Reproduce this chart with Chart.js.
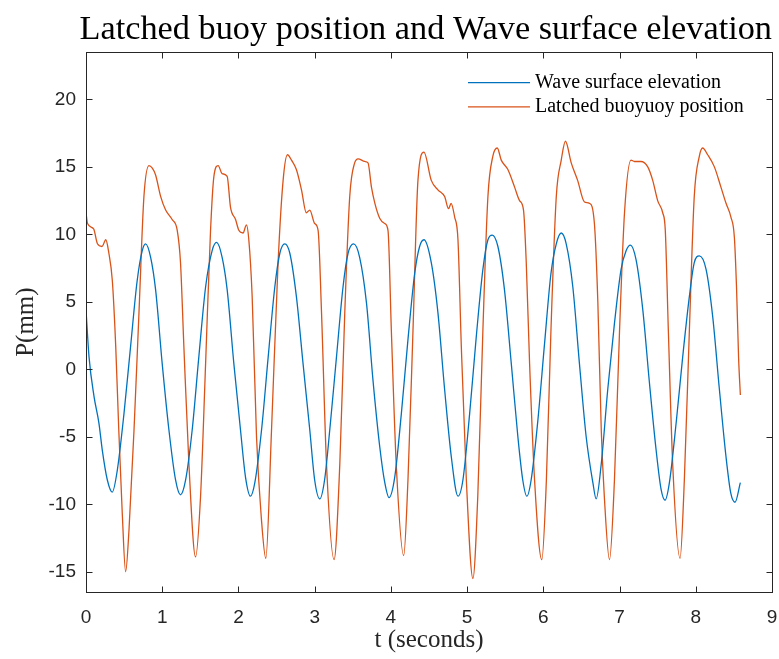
<!DOCTYPE html>
<html>
<head>
<meta charset="utf-8">
<script src="https://cdn.jsdelivr.net/npm/chart.js@4/dist/chart.umd.min.js"></script>
<style>
html,body{margin:0;padding:0;background:#ffffff;}
#wrap{width:779px;height:659px;}
</style>
</head>
<body>
<div id="wrap"><canvas id="c" width="779" height="659"></canvas></div>
<script>
const titleText = 'Latched buoy position and Wave surface elevation';
const xLabel = 't (seconds)';
const yLabel = 'P(mm)';
const seriesNames = ['Wave surface elevation', 'Latched buoyuoy position'];
const xTicks = [0, 1, 2, 3, 4, 5, 6, 7, 8, 9];
const yTicks = [-15, -10, -5, 0, 5, 10, 15, 20];

const waveT = [0.00,0.04,0.105,0.17,0.214,0.28,0.345,0.41,0.498,0.585,0.672,0.738,0.782,0.848,0.913,1.0,1.088,1.175,1.24,1.307,1.393,1.48,1.569,1.655,1.713,1.786,1.852,1.94,2.027,2.093,2.158,2.215,2.303,2.39,2.477,2.543,2.608,2.674,2.76,2.848,2.936,3.0,3.067,3.13,3.198,3.286,3.372,3.438,3.512,3.59,3.68,3.765,3.853,3.92,3.975,4.05,4.137,4.224,4.312,4.377,4.434,4.53,4.617,4.705,4.793,4.88,4.945,5.033,5.12,5.207,5.273,5.33,5.404,5.49,5.58,5.666,5.73,5.784,5.84,5.928,6.016,6.10,6.17,6.235,6.30,6.387,6.474,6.562,6.65,6.693,6.76,6.845,6.933,7.02,7.087,7.143,7.217,7.305,7.392,7.48,7.545,7.597,7.654,7.742,7.828,7.916,7.98,8.047,8.135,8.222,8.31,8.397,8.46,8.515,8.585];
const waveP = [4.4,0.9,-2.0,-4.0,-6.0,-8.2,-9.1,-7.5,-3.3,1.7,6.6,8.8,9.3,8.3,5.9,0.4,-4.5,-8.2,-9.3,-8.2,-4.5,0.9,6.1,8.8,9.4,8.3,5.9,0.4,-4.5,-8.0,-9.4,-8.4,-4.5,0.9,6.1,8.6,9.3,8.6,5.4,0.4,-4.5,-8.2,-9.6,-8.2,-4.5,0.9,6.1,8.6,9.3,8.3,4.9,-0.8,-5.7,-8.4,-9.5,-8.0,-3.3,2.2,7.1,9.1,9.6,7.9,4.2,-1.5,-6.5,-9.4,-8.2,-3.3,2.4,7.4,9.6,9.95,9.1,5.9,0.4,-5.0,-8.2,-9.4,-8.2,-3.8,1.9,7.1,9.3,10.1,9.3,6.1,0.4,-5.0,-8.4,-9.6,-7.0,-1.5,3.4,7.4,8.8,9.2,8.1,4.4,-1.0,-6.0,-8.9,-9.7,-8.4,-4.0,0.9,5.4,7.9,8.4,7.4,3.9,-1.5,-6.5,-9.2,-9.85,-8.4];

const buoyT = [0.00,0.02,0.10,0.15,0.21,0.26,0.30,0.345,0.39,0.43,0.476,0.52,0.564,0.63,0.695,0.76,0.826,0.87,0.913,0.98,1.045,1.13,1.197,1.24,1.284,1.35,1.437,1.503,1.569,1.634,1.678,1.734,1.786,1.852,1.896,1.962,2.005,2.06,2.105,2.136,2.18,2.237,2.30,2.359,2.434,2.52,2.586,2.643,2.696,2.76,2.827,2.89,2.936,3.0,3.045,3.09,3.155,3.255,3.33,3.395,3.46,3.525,3.57,3.657,3.70,3.745,3.79,3.853,3.92,3.962,4.006,4.07,4.168,4.224,4.29,4.355,4.434,4.53,4.617,4.705,4.757,4.79,4.836,4.88,4.924,4.99,5.076,5.14,5.207,5.273,5.338,5.396,5.448,5.535,5.623,5.688,5.74,5.776,5.82,5.885,5.98,6.04,6.10,6.17,6.235,6.29,6.366,6.45,6.54,6.605,6.67,6.715,6.76,6.80,6.868,6.933,7.0,7.065,7.15,7.195,7.28,7.37,7.435,7.5,7.566,7.60,7.64,7.697,7.794,7.85,7.916,7.98,8.047,8.09,8.156,8.244,8.33,8.397,8.46,8.506,8.535,8.562,8.585];
const buoyP = [11.6,10.8,10.4,9.3,9.1,9.6,8.6,6.6,1.7,-4.5,-10.7,-15.0,-11.9,-4.5,4.2,12.8,15.1,14.9,14.4,12.8,11.8,11.1,10.3,7.9,1.7,-7.0,-13.9,-9.4,0.4,10.3,14.3,15.1,14.5,14.3,12.0,11.1,10.3,10.1,10.7,9.6,5.4,-5.0,-11.0,-14.0,-4.5,7.9,14.0,15.9,15.5,14.8,13.3,11.6,11.8,10.8,10.3,4.2,-7.0,-14.1,-7.0,4.2,12.8,15.3,15.6,15.4,15.3,13.5,12.3,11.2,10.8,10.3,2.9,-7.0,-13.8,-8.2,2.9,14.0,16.1,14.0,13.3,12.8,11.9,12.3,11.3,9.6,1.7,-8.2,-15.5,-9.4,2.9,12.8,15.8,16.4,15.5,14.8,13.5,12.5,11.8,7.9,0.4,-8.2,-14.1,-8.2,2.9,12.8,15.5,16.9,15.3,14.0,12.4,12.3,10.8,5.0,-4.5,-9.4,-14.1,-8.2,2.9,11.6,15.5,15.4,15.4,15.0,14.0,12.5,11.6,10.3,2.9,-7.0,-14.0,-8.2,2.9,12.8,15.8,16.4,15.9,15.0,13.5,12.3,11.3,9.8,6.0,0.8,-1.9];

const waveColor = '#0072BD';
const buoyColor = '#D95319';
const axisColor = '#262626';
const serif = '"Liberation Serif", "Times New Roman", serif';
const sans = '"Liberation Sans", Arial, Helvetica, sans-serif';

const framePlugin = {
  id: 'frame',
  afterDraw(chart) {
    const {ctx, chartArea: a, scales: {x, y}} = chart;
    ctx.save();
    ctx.strokeStyle = axisColor;
    ctx.lineWidth = 1;
    const L = Math.round(a.left) + 0.5, R = Math.round(a.right) + 0.5;
    const T = Math.round(a.top) + 0.5, B = Math.round(a.bottom) + 0.5;
    ctx.strokeRect(L, T, R - L, B - T);
    const tl = 6;
    ctx.beginPath();
    x.ticks.forEach(t => {
      const px = Math.round(x.getPixelForValue(t.value)) + 0.5;
      ctx.moveTo(px, B); ctx.lineTo(px, B - tl);
      ctx.moveTo(px, T); ctx.lineTo(px, T + tl);
    });
    y.ticks.forEach(t => {
      const py = Math.round(y.getPixelForValue(t.value)) + 0.5;
      ctx.moveTo(L, py); ctx.lineTo(L + tl, py);
      ctx.moveTo(R, py); ctx.lineTo(R - tl, py);
    });
    ctx.stroke();
    // legend (no box, top-right inside axes)
    const lx0 = a.left + 382, lx1 = a.left + 444, tx = a.left + 449;
    const rows = [a.top + 30.5, a.top + 54.8];
    ctx.font = '20px ' + serif;
    ctx.textBaseline = 'middle';
    ctx.textAlign = 'left';
    chart.data.datasets.forEach((ds, i) => {
      ctx.strokeStyle = ds.borderColor;
      ctx.lineWidth = 1.3;
      ctx.beginPath();
      ctx.moveTo(lx0, rows[i]); ctx.lineTo(lx1, rows[i]);
      ctx.stroke();
      ctx.fillStyle = '#000000';
      ctx.fillText(ds.label, tx, rows[i]);
    });
    ctx.restore();
  }
};

new Chart(document.getElementById('c'), {
  type: 'line',
  data: {
    datasets: [
      {
        label: seriesNames[0],
        data: waveT.map((t, i) => ({x: t, y: waveP[i]})),
        borderColor: waveColor,
        borderWidth: 1.3,
        pointRadius: 0,
        fill: false,
        cubicInterpolationMode: 'monotone'
      },
      {
        label: seriesNames[1],
        data: buoyT.map((t, i) => ({x: t, y: buoyP[i]})),
        borderColor: buoyColor,
        borderWidth: 1.3,
        pointRadius: 0,
        fill: false,
        cubicInterpolationMode: 'monotone'
      }
    ]
  },
  options: {
    responsive: false,
    animation: false,
    devicePixelRatio: 1,
    layout: {padding: {top: 0, right: 7, left: 0, bottom: 0}},
    plugins: {
      legend: {display: false},
      tooltip: {enabled: false},
      title: {
        display: true,
        text: titleText,
        align: 'end',
        color: '#000000',
        font: {family: serif, size: 34.3, weight: 'normal'},
        padding: {top: 9, bottom: 2}
      }
    },
    scales: {
      x: {
        type: 'linear',
        min: 0,
        max: 9,
        afterBuildTicks: s => { s.ticks = xTicks.map(v => ({value: v})); },
        afterFit: s => { s.height = 67; s.paddingRight = 0; s.paddingLeft = 0; },
        grid: {display: false, drawTicks: false},
        border: {display: false},
        ticks: {padding: 14, color: axisColor, font: {family: sans, size: 19}, maxRotation: 0},
        title: {display: true, text: xLabel, color: axisColor, font: {family: serif, size: 25}, padding: {top: 0, bottom: 4}}
      },
      y: {
        type: 'linear',
        min: -16.5,
        max: 23.5,
        afterBuildTicks: s => { s.ticks = yTicks.map(v => ({value: v})); },
        afterFit: s => { s.width = 86; s.paddingTop = 0; s.paddingBottom = 0; },
        grid: {display: false, drawTicks: false},
        border: {display: false},
        ticks: {padding: 10, color: axisColor, font: {family: sans, size: 19}},
        title: {display: true, text: yLabel, color: axisColor, font: {family: serif, size: 25}, padding: {top: 11, bottom: 0}}
      }
    }
  },
  plugins: [framePlugin]
});
</script>
</body>
</html>
